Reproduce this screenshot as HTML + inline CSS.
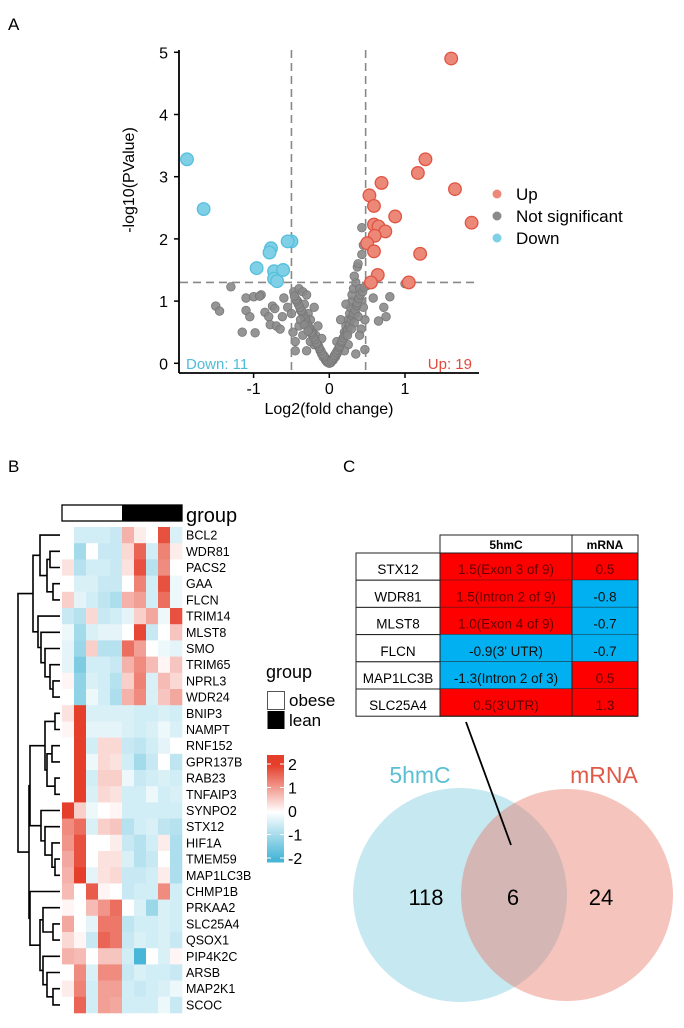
<!DOCTYPE html>
<html><head><meta charset="utf-8"><style>
body{margin:0;background:#fff;width:684px;height:1028px;overflow:hidden;font-family:"Liberation Sans",Arial,sans-serif}
svg{display:block}
</style></head><body>
<svg id="fig" width="684" height="1028" viewBox="0 0 684 1028" xmlns="http://www.w3.org/2000/svg" font-family="Liberation Sans, Arial, sans-serif">
<text x="8" y="30" font-size="17">A</text>
<text x="8" y="472" font-size="17">B</text>
<text x="343" y="472" font-size="17">C</text>
<g id="volcano"></g>
<g id="heat"></g>
<g id="venn"></g>
</svg>
<script>
const NS="http://www.w3.org/2000/svg";
function mk(p,t,a,txt){const e=document.createElementNS(NS,t);for(const k in a)e.setAttribute(k,a[k]);if(txt!==undefined)e.textContent=txt;p.appendChild(e);return e;}

// ===== Volcano data =====
const grayX=[-1.3,-1.1,-1.0,-1.5,-1.45,-1.1,-1.05,-0.9,-0.92,-0.85,-0.8,-0.75,-0.78,-0.7,-0.65,-0.62,-0.72,-1.15,-0.98,-0.6,-0.55,-0.5,-0.48,-0.45,-0.47,-0.4,-0.42,-0.35,-0.3,-0.38,-0.33,-0.28,-0.3,-0.25,-0.22,-0.18,-0.2,-0.15,-0.12,-0.1,-0.08,-0.05,-0.03,0,0.02,0.05,0.08,0.1,0.12,0.15,0.18,0.2,0.22,0.25,0.27,0.28,0.3,0.3,0.32,0.35,0.33,0.37,0.38,0.43,0.45,0.43,0.4,0.42,0.45,0.47,0.42,0.4,0.47,0.5,0.58,0.8,0.72,0.75,0.65,0.35,0.25,-0.25,-0.35,-0.4,0.2,-0.15,0.15,-0.2,0.22,-0.45,0.35,-0.3,1.0,-0.1,0.1,
-0.02,-0.04,-0.06,-0.07,-0.09,-0.11,-0.13,-0.14,-0.16,-0.17,-0.19,-0.21,-0.23,-0.24,-0.26,-0.27,-0.29,-0.31,-0.32,-0.34,-0.36,-0.37,-0.39,-0.41,-0.43,-0.44,-0.46,-0.38,-0.33,-0.28,
0.03,0.04,0.06,0.07,0.09,0.11,0.13,0.14,0.16,0.17,0.19,0.21,0.23,0.24,0.26,0.27,0.29,0.31,0.32,0.34,0.36,0.37,0.39,0.41,0.44,0.46,0.38,0.33,0.29,0.24];
const grayY=[1.23,1.05,1.07,0.92,0.84,0.85,0.75,1.1,1.08,0.82,0.75,0.92,0.62,0.6,0.55,0.75,0.88,0.5,0.49,1.05,0.9,0.8,0.5,0.2,1.15,1.2,1.0,1.15,1.1,0.85,0.95,0.8,0.6,0.7,0.5,0.45,0.3,0.3,0.2,0.15,0.1,0.05,0.02,0,0.01,0.05,0.1,0.15,0.2,0.3,0.4,0.5,0.6,0.7,0.8,0.9,1.0,1.1,1.2,1.3,1.4,1.55,1.6,1.75,1.9,2.18,1.2,1.0,0.9,0.7,0.55,0.45,0.22,1.25,1.05,1.07,0.9,0.75,0.68,0.8,0.3,0.35,0.45,0.6,0.2,0.6,0.7,0.9,0.95,0.35,0.15,0.2,1.28,0.4,0.35,
0.03,0.06,0.1,0.12,0.15,0.2,0.24,0.27,0.31,0.33,0.38,0.42,0.47,0.5,0.55,0.58,0.63,0.68,0.72,0.77,0.82,0.85,0.9,0.95,1.0,1.03,1.08,0.7,0.62,0.52,
0.04,0.07,0.1,0.13,0.17,0.21,0.25,0.28,0.33,0.36,0.41,0.45,0.5,0.54,0.6,0.63,0.7,0.76,0.8,0.86,0.93,0.97,1.04,1.1,1.15,1.22,0.75,0.65,0.55,0.45];
const downX=[-1.88,-1.66,-0.5,-0.55,-0.77,-0.79,-0.96,-0.73,-0.61,-0.73,-0.69];
const downY=[3.28,2.48,1.96,1.96,1.85,1.78,1.53,1.48,1.5,1.36,1.32];
const upX=[1.61,1.27,1.17,1.66,0.69,0.53,0.59,0.87,1.88,0.59,0.65,0.74,0.6,0.5,0.59,1.2,0.64,0.55,1.05];
const upY=[4.9,3.28,3.06,2.8,2.9,2.7,2.53,2.36,2.26,2.23,2.2,2.12,2.05,1.93,1.8,1.76,1.42,1.3,1.3];
const xTicks=[-1,0,1];
const yTicks=[0,1,2,3,4,5];
const fcCut=[-0.5,0.48];
const pCut=1.3;
const upCount=19, downCount=11;

const vx=v=>329.3+v*75.7, vy=v=>363.3-v*62.2;
const V=document.getElementById('volcano');
let l=mk(V,'line',{x1:179,y1:50,x2:179,y2:373,stroke:'#000','stroke-width':1.8});

l=mk(V,'line',{x1:179,y1:373,x2:479,y2:373,stroke:'#000','stroke-width':1.8});

yTicks.forEach(t=>{mk(V,'line',{x1:174,y1:vy(t),x2:179,y2:vy(t),stroke:'#000','stroke-width':1.5});
 const e=mk(V,'text',{x:168,y:vy(t)+6,'font-size':16,'text-anchor':'end'},String(t));
 });
xTicks.forEach(t=>{mk(V,'line',{x1:vx(t),y1:373,x2:vx(t),y2:378,stroke:'#000','stroke-width':1.5});
 const e=mk(V,'text',{x:vx(t),y:394,'font-size':16,'text-anchor':'middle'},String(t));
 });
let e=mk(V,'text',{x:329,y:414,'font-size':16,'text-anchor':'middle'},'Log2(fold change)');

e=mk(V,'text',{x:0,y:0,'font-size':16,'text-anchor':'middle',transform:'translate(134,180) rotate(-90)'},'-log10(PValue)');

grayX.forEach((x,i)=>{const c=mk(V,'circle',{cx:vx(x),cy:vy(grayY[i]),r:4.3,fill:'#8a8a8a',stroke:'#777','stroke-width':0.8,'fill-opacity':0.9});
 });
fcCut.forEach(x=>{const d=mk(V,'line',{x1:vx(x),y1:50,x2:vx(x),y2:372,stroke:'#888','stroke-width':1.6,'stroke-dasharray':'8,5'});
 });
e=mk(V,'line',{x1:180,y1:vy(pCut),x2:479,y2:vy(pCut),stroke:'#888','stroke-width':1.6,'stroke-dasharray':'8,5'});

downX.forEach((x,i)=>{const c=mk(V,'circle',{cx:vx(x),cy:vy(downY[i]),r:6.3,fill:'#7fd0e6',stroke:'#55bfdc','stroke-width':1.3});
 });
upX.forEach((x,i)=>{const c=mk(V,'circle',{cx:vx(x),cy:vy(upY[i]),r:6.3,fill:'#ec8878',stroke:'#e05442','stroke-width':1.3});
 });
e=mk(V,'text',{x:186,y:369,'font-size':15,fill:'#4fbcd8'},'Down: '+downCount);

e=mk(V,'text',{x:472,y:369,'font-size':15,fill:'#e04a3a','text-anchor':'end'},'Up: '+upCount);

const legNames=['Up','Not significant','Down'],legCols=['#ec8878','#8a8a8a','#7fd0e6'];
legNames.forEach((n,i)=>{const y=194+i*22;
 const g=mk(V,'g',{});
 mk(g,'circle',{cx:497,cy:y,r:4.5,fill:legCols[i]});
 mk(g,'text',{x:516,y:y+6,'font-size':17},n);});

// ===== Heatmap data =====
const genes=['BCL2','WDR81','PACS2','GAA','FLCN','TRIM14','MLST8','SMO','TRIM65','NPRL3','WDR24','BNIP3','NAMPT','RNF152','GPR137B','RAB23','TNFAIP3','SYNPO2','STX12','HIF1A','TMEM59','MAP1LC3B','CHMP1B','PRKAA2','SLC25A4','QSOX1','PIP4K2C','ARSB','MAP2K1','SCOC'];
const groups=['obese','obese','obese','obese','obese','lean','lean','lean','lean','lean'];
const heat=[
[0,-0.5,-0.5,-0.5,-0.6,0.8,0.2,0,1.8,-0.4],
[0,-1,0,-0.6,-0.6,0.4,1.6,-0.5,1.3,0.2],
[0.3,-0.8,-0.5,-0.5,-0.6,0.3,1.8,-0.8,1.2,0],
[0,-0.4,-0.4,-0.6,-0.6,0,1.3,-0.5,1.8,-0.2],
[0.5,-0.3,-0.5,-0.7,-0.9,0.8,1,-0.5,1.5,-0.2],
[-0.6,-0.8,0.4,-0.6,-0.5,-0.3,0.5,0.9,-0.2,1.8],
[-0.2,-1,-0.4,-0.3,-0.3,0,1.9,-0.6,0,0.6],
[-0.3,-1.1,0.5,-0.8,-0.8,1.5,1,0,-0.2,-0.3],
[-0.3,-1.4,-0.5,-0.5,-0.6,0.8,1.2,0.7,0.1,0.6],
[0.1,-1.2,-0.4,-0.5,-0.8,0.5,1.3,-0.4,0.7,0.4],
[0,-1.2,-0.2,-0.5,-0.9,0.8,1.2,-0.4,0.6,0.9],
[0.3,2,-0.4,-0.4,-0.4,-0.4,-0.5,-0.5,-0.4,-0.5],
[0.1,2,-0.3,-0.3,-0.3,-0.4,-0.5,-0.4,-0.2,-0.4],
[0,2,-0.5,0.4,0.4,-0.6,-0.7,-0.5,-0.3,0],
[0,2,-0.2,0.4,0.3,-0.5,-1,-0.6,0,-0.7],
[0,2,-0.5,0.5,0.5,-0.2,-0.6,-0.5,-0.4,-0.5],
[0,2,-0.4,0.4,0.3,-0.5,-0.5,-0.2,-0.5,-0.4],
[2,0.5,-0.2,0,0.1,-0.5,-0.5,-0.5,-0.5,-0.5],
[1.2,1.5,-0.4,0.5,0.6,-0.8,-0.5,-0.4,-0.7,-0.8],
[1.1,1.8,0,0,0.2,-0.6,-0.8,-0.5,0.2,-0.9],
[0.9,1.8,0,0.3,0.3,-0.4,-0.8,-0.6,0,-0.9],
[0.8,2,-0.3,0.3,0.4,-0.6,-0.6,-0.5,0.2,-0.9],
[0.7,0,1.7,0.1,0,-0.6,-0.5,-0.5,1.2,-0.5],
[0.1,0,0.7,1.1,1.5,0,-0.4,-1.1,-0.4,-0.5],
[0.9,0,-0.3,1.4,1.4,-0.7,-0.5,-0.5,-0.4,-0.5],
[0.4,0.1,-0.6,1.6,1.4,-0.6,-0.4,-0.5,-0.4,-0.6],
[0.8,0.7,0,0.6,0.6,-0.5,-2,0,-0.4,0.1],
[0,1.2,-0.4,1.2,1.2,-0.6,-0.4,-0.5,-0.5,-0.6],
[0.2,1.3,-0.5,1,1,-0.5,-0.6,-0.5,-0.4,-0.2],
[0,1.6,-0.5,1,0.9,-0.5,-0.5,-0.5,-0.2,-0.6]];
const scaleTicks=[2,1,0,-1,-2];
const tree=[18,[33,[40,0,[47,[50,1,2],[53,3,4]]],[38,5,[41,6,[45,7,[50,8,[53,9,10]]]]]],
 [29,[30,[45,[55,11,12],[47,[52,13,14],[55,15,16]]],[41,17,[45,18,[52,19,[55,20,21]]]]],
  [30,22,[40,[43,23,[53,24,25]],[43,26,[47,27,[53,28,29]]]]]]];

const H=document.getElementById('heat');
const hx0=62,cw=12,hy0=527,rh=16.2;
function col(v){v=Math.max(-2,Math.min(2,v));
 const w=[255,255,255],r=[229,62,42],b=[72,182,214];const t=Math.abs(v)/2;const c=v>=0?r:b;
 return 'rgb('+w.map((x,i)=>Math.round(x+(c[i]-x)*t)).join(',')+')';}
heat.forEach((row,i)=>row.forEach((v,j)=>{const c=mk(H,'rect',{x:hx0+j*cw,y:hy0+i*rh,width:cw+0.3,height:rh+0.3,fill:col(v)});
 }));
genes.forEach((g,i)=>{const t=mk(H,'text',{x:186,y:hy0+i*rh+rh/2+4.5,'font-size':12.5},g);
 });
groups.forEach((g,j)=>{const c=mk(H,'rect',{x:hx0+j*cw,y:505,width:cw,height:16,fill:g==='lean'?'#000':'#fff'});
 });
mk(H,'rect',{x:hx0,y:505,width:cw*10,height:16,fill:'none',stroke:'#000','stroke-width':1.3});
e=mk(H,'text',{x:186,y:522,'font-size':20},'group');

let dpath='';
function dn(n){if(typeof n==='number')return {x:60,y:hy0+n*rh+rh/2};
 const a=dn(n[1]),b=dn(n[2]),h=n[0];
 dpath+=`M${a.x},${a.y}H${h}V${b.y}H${b.x}`;return {x:h,y:(a.y+b.y)/2};}
dn(tree);
e=mk(H,'path',{d:dpath,fill:'none',stroke:'#000','stroke-width':1.6});

e=mk(H,'text',{x:266,y:678,'font-size':18},'group');

e=mk(H,'rect',{x:267.5,y:691.5,width:17,height:18,fill:'#fff',stroke:'#555','stroke-width':1});

mk(H,'text',{x:289,y:706,'font-size':17},'obese');
e=mk(H,'rect',{x:267.5,y:711,width:17,height:18,fill:'#000'});

mk(H,'text',{x:289,y:726,'font-size':17},'lean');
const cbTop=755,cbBot=862,cbScale=v=>764+(2-v)*23.5;
for(let k=0;k<50;k++){const y=cbTop+k*(cbBot-cbTop)/50;const v=2-(y-764)/23.5;
 mk(H,'rect',{x:267,y:y,width:17,height:(cbBot-cbTop)/50+0.5,fill:col(v)});}
scaleTicks.forEach(t=>{const y=cbScale(t);
 mk(H,'line',{x1:267,y1:y,x2:271,y2:y,stroke:'#fff','stroke-width':1});
 mk(H,'line',{x1:280,y1:y,x2:284,y2:y,stroke:'#fff','stroke-width':1});
 const s=mk(H,'text',{x:288,y:y+6,'font-size':16},String(t));
 });

// ===== Table + Venn =====
const Vn=document.getElementById('venn');
const tGenes=['STX12','WDR81','MLST8','FLCN','MAP1LC3B','SLC25A4'];
const t5=['1.5(Exon 3 of 9)','1.5(Intron 2 of 9)','1.0(Exon 4 of 9)','-0.9(3\' UTR)','-1.3(Intron 2 of 3)','0.5(3\'UTR)'];
const t5v=[1.5,1.5,1.0,-0.9,-1.3,0.5];
const tm=[0.5,-0.8,-0.7,-0.7,0.5,1.3];
const ry0=553,trh=27.2;
const tbl=mk(Vn,'g',{});
mk(tbl,'rect',{x:440,y:535,width:198,height:18,fill:'#fff',stroke:'#222','stroke-width':1});
mk(tbl,'line',{x1:572,y1:535,x2:572,y2:553,stroke:'#222'});
mk(tbl,'text',{x:506,y:549,'font-size':12,'font-weight':'bold','text-anchor':'middle'},'5hmC');
mk(tbl,'text',{x:605,y:549,'font-size':12,'font-weight':'bold','text-anchor':'middle'},'mRNA');
tGenes.forEach((g,i)=>{const y=ry0+i*trh;
 const r=mk(tbl,'g',{});
 mk(r,'rect',{x:356,y:y,width:84,height:trh,fill:'#fff',stroke:'#222','stroke-width':1});
 mk(r,'rect',{x:440,y:y,width:132,height:trh,fill:t5v[i]>0?'#ff0000':'#00b0f0'});
 mk(r,'rect',{x:572,y:y,width:66,height:trh,fill:tm[i]>0?'#ff0000':'#00b0f0'});
 mk(r,'line',{x1:440,y1:y+trh,x2:638,y2:y+trh,stroke:'#222','stroke-width':1});
 mk(r,'line',{x1:572,y1:y,x2:572,y2:y+trh,stroke:'#222','stroke-width':1});
 mk(r,'text',{x:398,y:y+trh-6,'font-size':13.5,'text-anchor':'middle'},g);
 mk(r,'text',{x:506,y:y+trh-6,'font-size':13.5,'text-anchor':'middle',fill:t5v[i]>0?'#600':'#111'},t5[i]);
 mk(r,'text',{x:605,y:y+trh-6,'font-size':13.5,'text-anchor':'middle',fill:tm[i]>0?'#600':'#111'},String(tm[i]));});
mk(tbl,'rect',{x:440,y:553,width:198,height:trh*6,fill:'none',stroke:'#222','stroke-width':1});
const setSizes=[118,6,24];
e=mk(Vn,'circle',{cx:460,cy:895,r:107,fill:'#5bbfd8','fill-opacity':0.35});

e=mk(Vn,'circle',{cx:567,cy:895,r:106,fill:'#e8735f','fill-opacity':0.42});

e=mk(Vn,'line',{x1:466,y1:722,x2:511,y2:845,stroke:'#000','stroke-width':1.8});

e=mk(Vn,'text',{x:420,y:783,'font-size':23,fill:'#5bbfd4','text-anchor':'middle'},'5hmC');

e=mk(Vn,'text',{x:604,y:783,'font-size':23,fill:'#e05a48','text-anchor':'middle'},'mRNA');

[426,513,601].forEach((x,i)=>{const s=mk(Vn,'text',{x:x,y:905,'font-size':22,'text-anchor':'middle'},String(setSizes[i]));
 });
</script>
</body></html>
